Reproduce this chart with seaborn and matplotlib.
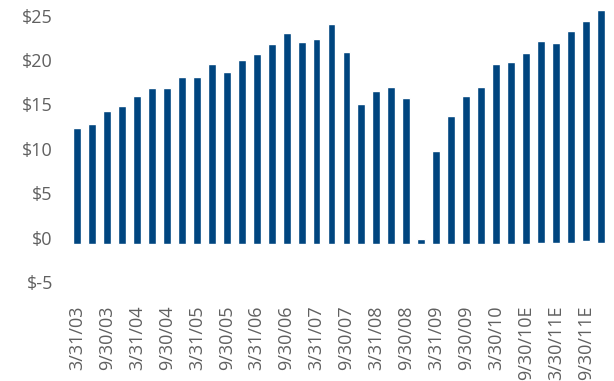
import matplotlib
matplotlib.use("Agg")
import matplotlib.pyplot as plt
import seaborn as sns
import pandas as pd

# Quarter-end dates (E = estimate)
quarters = [
    "3/31/03", "6/30/03", "9/30/03", "12/31/03",
    "3/31/04", "6/30/04", "9/30/04", "12/31/04",
    "3/31/05", "6/30/05", "9/30/05", "12/31/05",
    "3/31/06", "6/30/06", "9/30/06", "12/31/06",
    "3/31/07", "6/30/07", "9/30/07", "12/31/07",
    "3/31/08", "6/30/08", "9/30/08", "12/31/08",
    "3/31/09", "6/30/09", "9/30/09", "12/31/09",
    "3/30/10", "6/30/10", "9/30/10E", "12/31/10E",
    "3/30/11E", "6/30/11E", "9/30/11E", "12/31/11E",
]

# Top of each bar ($)
bar_top = [
    12.4, 12.75, 14.3, 14.8, 15.9, 16.9, 16.9, 18.05, 18.05, 19.5,
    18.7, 20.0, 20.65, 21.8, 23.0, 22.0, 22.35, 24.0, 20.9, 15.0,
    16.5, 17.0, 15.7, -0.1, 9.8, 13.65, 15.9, 17.0, 19.5, 19.75,
    20.8, 22.1, 21.9, 23.25, 24.4, 25.6,
]

# Bottom of each bar ($)
bar_base = [
    -0.75, -0.75, -0.75, -0.75, -0.75, -0.75, -0.75, -0.75, -0.75, -0.75,
    -0.75, -0.75, -0.75, -0.75, -0.75, -0.75, -0.75, -0.75, -0.75, -0.75,
    -0.75, -0.75, -0.75, -0.75, -0.75, -0.75, -0.75, -0.75, -0.7, -0.7,
    -0.7, -0.55, -0.55, -0.55, -0.4, -0.55,
]

y_ticks = [-5, 0, 5, 10, 15, 20, 25]
y_tick_labels = ["$-5", "$0", "$5", "$10", "$15", "$20", "$25"]
x_tick_labels = quarters[::2]

df = pd.DataFrame({
    "quarter": quarters,
    "span": [t - b for t, b in zip(bar_top, bar_base)],
})

sns.set_theme(style="white")
plt.rcParams["font.family"] = ["Open Sans", "DejaVu Sans"]

fig = plt.figure(figsize=(6.14, 3.81), dpi=100)
ax = fig.add_axes([0.1132, 0.2126, 0.8778, 0.7816])

sns.barplot(
    data=df, x="quarter", y="span", order=quarters,
    color="#00457f", saturation=1, width=0.53,
    bottom=bar_base, ax=ax, errorbar=None,
)

ax.set_xlim(-0.5, len(quarters) - 0.5)
ax.set_ylim(-7, 26.5)
ax.set_yticks(y_ticks)
ax.set_yticklabels(y_tick_labels, fontsize=13, color="#606060")
ax.set_xticks(range(0, len(quarters), 2))
ax.set_xticklabels(x_tick_labels, rotation=90, fontsize=13, color="#606060")
ax.tick_params(axis="y", length=0, pad=12)
ax.tick_params(axis="x", length=0, pad=4)
ax.set_xlabel("")
ax.set_ylabel("")
for s in ax.spines.values():
    s.set_visible(False)
ax.grid(False)

fig.savefig("out.png", dpi=100, facecolor="white")
